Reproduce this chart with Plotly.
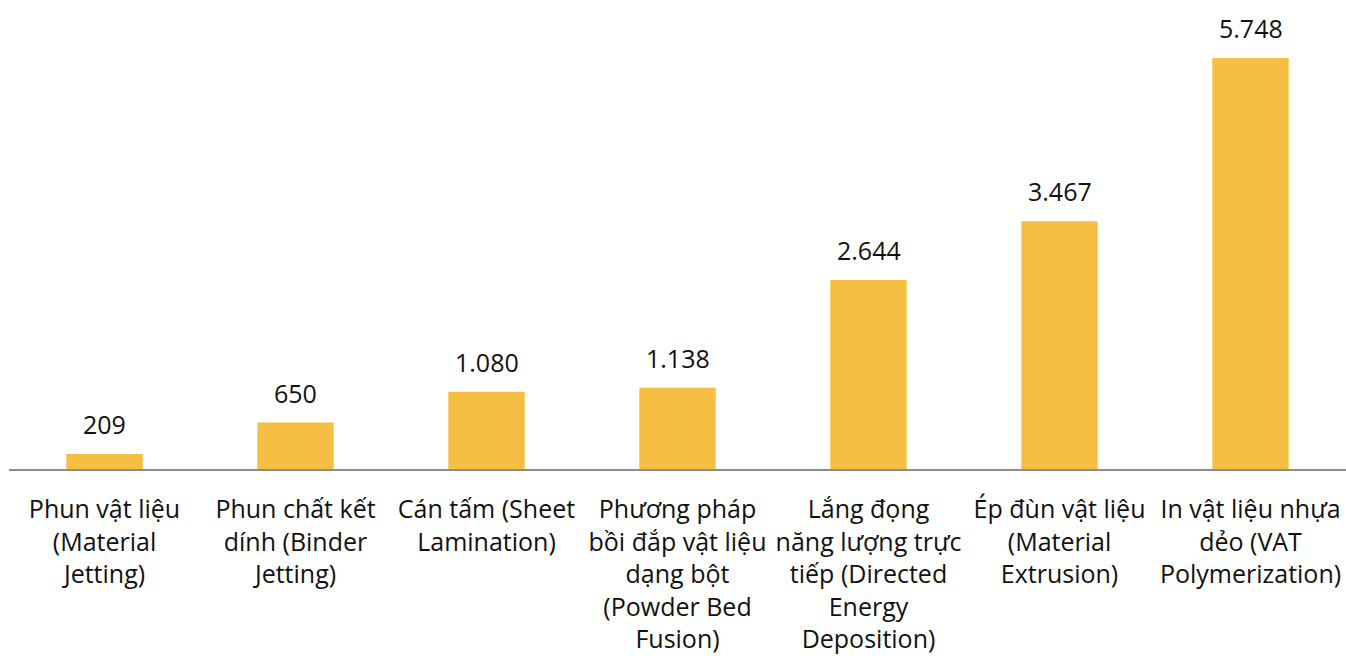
import plotly.graph_objects as go

categories = [
    "Phun vật liệu<br>(Material<br>Jetting)",
    "Phun chất kết<br>dính (Binder<br>Jetting)",
    "Cán tấm (Sheet<br>Lamination)",
    "Phương pháp<br>bồi đắp vật liệu<br>dạng bột<br>(Powder Bed<br>Fusion)",
    "Lắng đọng<br>năng lượng trực<br>tiếp (Directed<br>Energy<br>Deposition)",
    "Ép đùn vật liệu<br>(Material<br>Extrusion)",
    "In vật liệu nhựa<br>dẻo (VAT<br>Polymerization)",
]
values = [209, 650, 1080, 1138, 2644, 3467, 5748]
value_labels = [f"{v:,}".replace(",", ".") for v in values]

FONT = "Open Sans"
fig = go.Figure()
fig.add_trace(go.Bar(x=categories, y=values, marker=dict(color="#F4BF42", line=dict(width=0)),
                     width=0.4, hoverinfo="skip"))
for c, v, t in zip(categories, values, value_labels):
    fig.add_annotation(x=c, y=v, text=t, showarrow=False, yanchor="bottom", yshift=11,
                       font=dict(size=25, color="#111111", family=FONT))

fig.update_layout(
    width=1346, height=664,
    margin=dict(l=9, r=0, t=0, b=195),
    paper_bgcolor="white", plot_bgcolor="white",
    showlegend=False,
    font=dict(family=FONT, size=25, color="#111111"),
    xaxis=dict(showline=True, linecolor="#8C8C8C", linewidth=2, tickangle=0,
               showgrid=False, ticks="", ticklabelstandoff=17,
               tickfont=dict(size=25, family=FONT)),
    yaxis=dict(visible=False, range=[0, 6560]),
)
fig.write_html("out.html")
